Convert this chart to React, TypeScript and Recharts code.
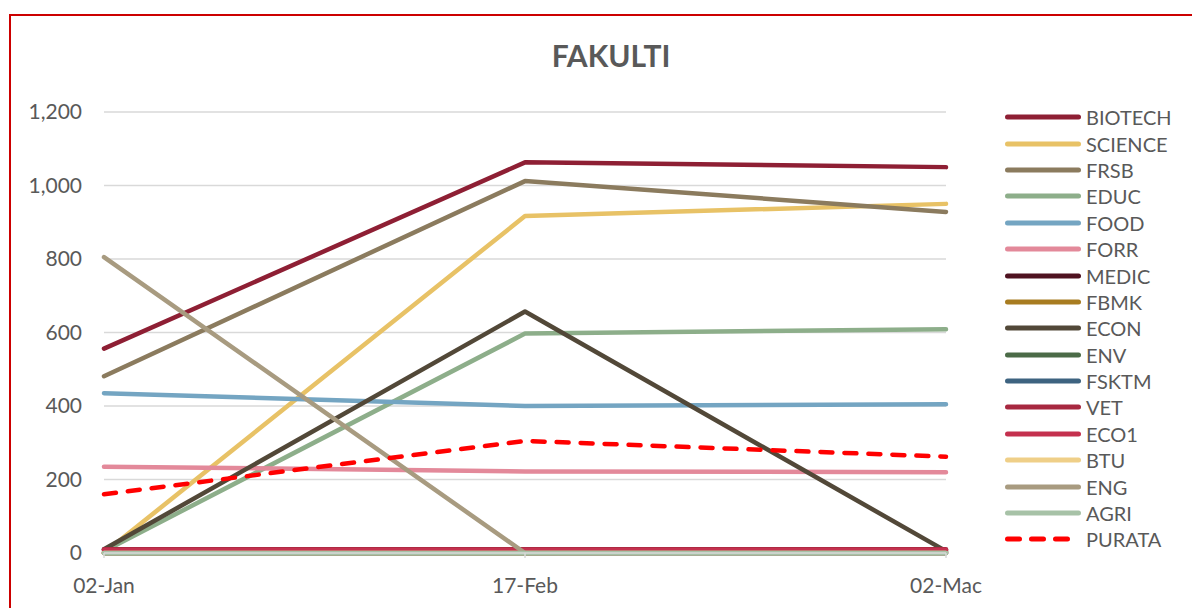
import { LineChart, Line, XAxis, YAxis, CartesianGrid, Legend } from 'recharts'

const dates = ['02-Jan', '17-Feb', '02-Mac']

const biotech = [556, 1063, 1050]
const science = [0, 917, 950]
const frsb = [481, 1012, 928]
const educ = [5, 597, 609]
const food = [435, 400, 405]
const forr = [235, 222, 220]
const medic = [0, 0, 0]
const fbmk = [0, 0, 2]
const econ = [10, 657, 5]
const env = [0, 0, 0]
const fsktm = [0, 0, 0]
const vet = [10, 10, 10]
const eco1 = [8, 8, 8]
const btu = [0, 0, 0]
const eng = [805, 0, 0]
const agri = [0, 0, 0]
const purata = [160, 305, 262]

const yTicks = [0, 200, 400, 600, 800, 1000, 1200]

const series = [
  { key: 'BIOTECH', values: biotech, color: '#8E1F34' },
  { key: 'SCIENCE', values: science, color: '#E8C266' },
  { key: 'FRSB', values: frsb, color: '#8B7B5E' },
  { key: 'EDUC', values: educ, color: '#8DAE8A' },
  { key: 'FOOD', values: food, color: '#74A5C2' },
  { key: 'FORR', values: forr, color: '#E3899A' },
  { key: 'MEDIC', values: medic, color: '#4F1220' },
  { key: 'FBMK', values: fbmk, color: '#A87C20' },
  { key: 'ECON', values: econ, color: '#524838' },
  { key: 'ENV', values: env, color: '#4B6B47' },
  { key: 'FSKTM', values: fsktm, color: '#3D6380' },
  { key: 'VET', values: vet, color: '#A72840' },
  { key: 'ECO1', values: eco1, color: '#C4304E' },
  { key: 'BTU', values: btu, color: '#EFCF88' },
  { key: 'ENG', values: eng, color: '#A89B80' },
  { key: 'AGRI', values: agri, color: '#A7C2A7' },
  { key: 'PURATA', values: purata, color: '#FF0000', dash: '12 12' },
]

const data = dates.map((date, i) => {
  const row: Record<string, string | number> = { date }
  series.forEach((s) => {
    row[s.key] = s.values[i]
  })
  return row
})

const textColor = '#595959'
const gridColor = '#D9D9D9'

function LegendBox() {
  return (
    <div>
      {series.map((s) => (
        <div key={s.key} style={{ display: 'flex', alignItems: 'center', height: 26.4 }}>
          <svg width={76} height={10} style={{ display: 'block' }}>
            <line
              x1={2.5}
              y1={5}
              x2={s.dash ? 70 : 73.5}
              y2={5}
              stroke={s.color}
              strokeWidth={5}
              strokeLinecap="round"
              strokeDasharray={s.dash ? '12 12' : undefined}
            />
          </svg>
          <span style={{ marginLeft: 5, fontSize: 20, color: textColor, lineHeight: 1 }}>{s.key}</span>
        </div>
      ))}
    </div>
  )
}

export default function App() {
  return (
    <div style={{ width: 1192, height: 600, overflow: 'hidden', paddingTop: 6, paddingLeft: 1, boxSizing: 'border-box', fontFamily: 'Lato, sans-serif' }}>
      <div style={{ position: 'relative', borderTop: '2px solid #CC0000', borderLeft: '2px solid #CC0000', width: 1189, height: 592 }}>
        <div
          style={{
            position: 'absolute',
            left: 0,
            top: 24,
            width: 1200,
            textAlign: 'center',
            fontSize: 30,
            lineHeight: 1,
            fontWeight: 700,
            color: textColor,
          }}
        >
          FAKULTI
        </div>
        <LineChart width={1189} height={592} data={data} margin={{ top: 96, right: 254, left: 0, bottom: 0 }}>
          <CartesianGrid vertical={false} stroke={gridColor} strokeWidth={1.5} />
          <XAxis
            dataKey="date"
            interval={0}
            height={55}
            axisLine={{ stroke: gridColor, strokeWidth: 1.5 }}
            tickLine={{ stroke: gridColor, strokeWidth: 1.5 }}
            tickSize={5}
            tickMargin={20}
            tick={{ fill: textColor, fontSize: 21 }}
          />
          <YAxis
            width={93}
            domain={[0, 1200]}
            ticks={yTicks}
            axisLine={false}
            tickLine={false}
            tickSize={0}
            tickMargin={22}
            tick={{ fill: textColor, fontSize: 21 }}
            tickFormatter={(v: number) => v.toLocaleString('en-US')}
          />
          <Legend
            layout="vertical"
            align="center"
            verticalAlign="middle"
            wrapperStyle={{ left: 994, top: 88 }}
            content={() => <LegendBox />}
          />
          {series.map((s) => (
            <Line
              key={s.key}
              type="linear"
              dataKey={s.key}
              stroke={s.color}
              strokeWidth={4.5}
              strokeLinejoin="round"
              strokeLinecap="round"
              strokeDasharray={s.dash}
              dot={false}
              activeDot={false}
              isAnimationActive={false}
            />
          ))}
        </LineChart>
      </div>
    </div>
  )
}
